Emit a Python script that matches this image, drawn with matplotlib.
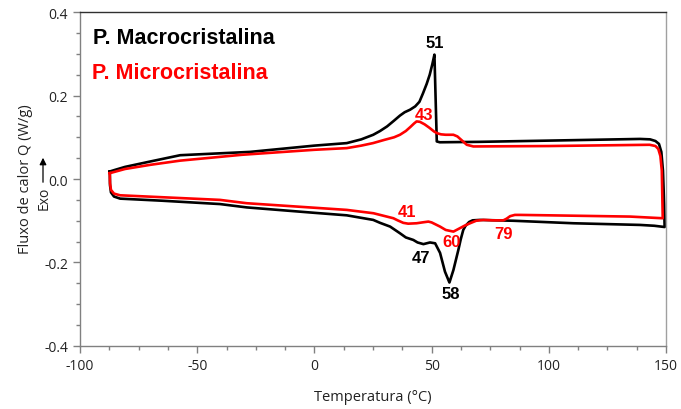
import matplotlib
matplotlib.use('Agg')
import matplotlib.pyplot as plt
from matplotlib.ticker import MultipleLocator
import numpy as np

plt.rcParams['axes.unicode_minus'] = False

# DSC curves: heating (top branch) then cooling (bottom branch), temperature in C, heat flow in W/g
macro_heat_t = [-87.3, -85, -80.8, -70, -57.3, -27.4, 0, 13.8, 20, 25.1, 28, 31, 34, 36.5, 38.5, 40.8,
                43, 44.8, 46.3, 47.9, 49.2, 50.3, 51.2, 52.2, 53.5, 70, 100, 138.9, 143.2, 145.5,
                147, 148, 148.7, 149.2, 149.4]
macro_heat_q = [0.018, 0.022, 0.029, 0.042, 0.057, 0.065, 0.080, 0.086, 0.095, 0.106, 0.115, 0.126,
                0.140, 0.152, 0.160, 0.166, 0.174, 0.185, 0.205, 0.228, 0.250, 0.275, 0.298, 0.09,
                0.088, 0.089, 0.092, 0.096, 0.095, 0.091, 0.084, 0.065, 0.02, -0.06, -0.115]
macro_cool_t = [149.4, 145, 138.9, 110.5, 84.9, 70.6, 67.5, 66, 64.5, 63.5, 62.4, 61.4, 59.3, 57.6,
                55.7, 53.6, 51.5, 49.3, 46.5, 44, 42.2, 39, 36.5, 32.3, 28, 25.1, 13.8, 0, -28.9,
                -40.3, -65, -82.9, -85.5, -86.8, -87.2, -87.3]
macro_cool_q = [-0.115, -0.112, -0.110, -0.106, -0.100, -0.098, -0.099, -0.103, -0.112, -0.122,
                -0.145, -0.170, -0.218, -0.248, -0.222, -0.177, -0.154, -0.152, -0.156, -0.152,
                -0.146, -0.140, -0.130, -0.114, -0.105, -0.098, -0.087, -0.081, -0.068, -0.060,
                -0.052, -0.047, -0.042, -0.032, -0.015, 0.018]

micro_heat_t = [-87.3, -80.8, -70, -57.3, -31, 0, 13.8, 20, 25, 30, 34, 36.5, 39, 41, 42.5, 43.6,
                45, 47, 49, 51, 52.2, 54, 56, 59.3, 61, 63, 65, 67.8, 100, 143, 145.5, 146.7,
                147.6, 148.2, 148.6]
micro_heat_q = [0.014, 0.024, 0.034, 0.044, 0.058, 0.070, 0.074, 0.080, 0.086, 0.094, 0.100, 0.106,
                0.115, 0.125, 0.133, 0.138, 0.137, 0.131, 0.123, 0.114, 0.110, 0.107, 0.106, 0.106,
                0.102, 0.092, 0.082, 0.078, 0.079, 0.082, 0.079, 0.072, 0.055, 0.02, -0.094]
micro_cool_t = [148.6, 134.7, 100, 87.7, 85.5, 83.5, 82, 80.6, 76, 72.1, 69, 66.4, 64, 62, 59.3, 56,
                53.6, 50, 48.6, 46, 43.6, 40, 37.9, 35.5, 33.7, 25.2, 13.8, -28.9, -40.3, -82.9,
                -85.5, -86.8, -87.2, -87.3]
micro_cool_q = [-0.094, -0.090, -0.087, -0.086, -0.086, -0.089, -0.095, -0.099, -0.099, -0.098,
                -0.100, -0.106, -0.112, -0.118, -0.126, -0.122, -0.114, -0.104, -0.102, -0.104,
                -0.106, -0.107, -0.105, -0.099, -0.094, -0.082, -0.074, -0.058, -0.050, -0.039,
                -0.035, -0.026, -0.010, 0.014]

# peak temperatures written next to the curves
macro_peaks = [('51', 51.4, 0.328), ('47', 45.3, -0.187), ('58', 58.1, -0.275)]
micro_peaks = [('43', 46.8, 0.154), ('41', 39.4, -0.079), ('60', 58.3, -0.150), ('79', 80.6, -0.130)]

fig = plt.figure(figsize=(6.81, 4.10), dpi=100)
ax = fig.add_axes([0.1175, 0.1537, 0.8605, 0.8145])

ax.plot(macro_heat_t + macro_cool_t, macro_heat_q + macro_cool_q, color='black', lw=1.9,
        solid_joinstyle='round')
ax.plot(micro_heat_t + micro_cool_t, micro_heat_q + micro_cool_q, color='#ff0000', lw=1.9,
        solid_joinstyle='round')

for txt, t, q in macro_peaks:
    ax.text(t, q, txt, color='black', fontsize=12, fontweight='bold', family='Liberation Sans',
            ha='center', va='center')
for txt, t, q in micro_peaks:
    ax.text(t, q, txt, color='#ff0000', fontsize=12, fontweight='bold', family='Liberation Sans',
            ha='center', va='center')

ax.text(0.022, 0.925, 'P. Macrocristalina', transform=ax.transAxes, color='black', fontsize=15.5,
        fontweight='bold', family='Liberation Sans', va='center')
ax.text(0.020, 0.820, 'P. Microcristalina', transform=ax.transAxes, color='#ff0000', fontsize=15.5,
        fontweight='bold', family='Liberation Sans', va='center')

ax.set_xlim(-100, 150)
ax.set_ylim(-0.4, 0.4)
ax.xaxis.set_major_locator(MultipleLocator(50))
ax.xaxis.set_minor_locator(MultipleLocator(12.5))
ax.yaxis.set_major_locator(MultipleLocator(0.2))
ax.yaxis.set_minor_locator(MultipleLocator(0.05))
ax.yaxis.set_major_formatter(plt.FuncFormatter(lambda v, p: f'{v:.1f}'))

ax.tick_params(which='major', direction='out', length=5, width=1, color='#808080',
               labelsize=10, labelcolor='#222222')
ax.tick_params(which='minor', direction='out', length=3, width=1, color='#808080')
for lab in ax.get_xticklabels() + ax.get_yticklabels():
    lab.set_family('Open Sans')

ax.spines['left'].set_color('#808080')
ax.spines['bottom'].set_color('#808080')
ax.spines['right'].set_color('#a0a0a0')
ax.spines['top'].set_color('#303030')
for s in ax.spines.values():
    s.set_linewidth(1)

ax.set_xlabel('Temperatura (°C)', fontsize=10.5, family='Open Sans', color='#222222')
ax.xaxis.set_label_coords(0.5, -0.13)
ax.set_ylabel('Fluxo de calor Q (W/g)', fontsize=10.5, family='Open Sans', color='#222222')
ax.yaxis.set_label_coords(-0.08, 0.503)

# exothermic direction marker
fig.text(44 / 681, 1 - 198 / 410, 'Exo', rotation=90, fontsize=10, family='Open Sans',
         color='#222222', ha='center', va='center')
ax.annotate('', xy=(43 / 681, 1 - 156 / 410), xytext=(43 / 681, 1 - 186 / 410),
            xycoords='figure fraction', textcoords='figure fraction',
            arrowprops=dict(arrowstyle='-|>', color='black', lw=0.9, mutation_scale=10))

fig.savefig('out.png', dpi=100)
